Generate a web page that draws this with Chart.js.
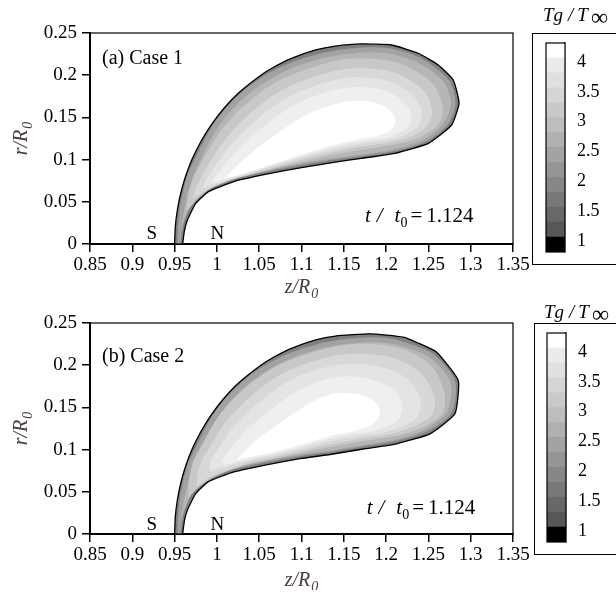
<!DOCTYPE html>
<html>
<head>
<meta charset="utf-8">
<script src="https://cdn.jsdelivr.net/npm/chart.js@4.4.1/dist/chart.umd.min.js"></script>
<style>
  html, body { margin: 0; padding: 0; background: #fff; }
  body { position: relative; width: 616px; height: 596px; overflow: hidden; }
  .panel { position: absolute; left: 0; width: 616px; height: 300px; }
  .plot { position: absolute; left: 0; top: 0; width: 532px; height: 300px; }
  .bar { position: absolute; top: 0; width: 84px; height: 300px; }
  .box { position: absolute; top: 33px; height: 230px; width: 120px; border: 1px solid #000; }
</style>
</head>
<body>
<div class="panel" style="top:0px">
  <div class="box" style="left:532px"></div>
  <div class="plot"><canvas id="plotA"></canvas></div>
  <div class="bar" style="left:532px"><canvas id="barA"></canvas></div>
</div>
<div class="panel" style="top:290px">
  <div class="box" style="left:534px"></div>
  <div class="plot"><canvas id="plotB"></canvas></div>
  <div class="bar" style="left:533px"><canvas id="barB"></canvas></div>
</div>

<script>
// ---- axes ----
const zTicks = [0.85, 0.9, 0.95, 1, 1.05, 1.1, 1.15, 1.2, 1.25, 1.3, 1.35];
const zTickLabels = ['0.85', '0.9', '0.95', '1', '1.05', '1.1', '1.15', '1.2', '1.25', '1.3', '1.35'];
const rTicks = [0, 0.05, 0.1, 0.15, 0.2, 0.25];
const rTickLabels = ['0', '0.05', '0.1', '0.15', '0.2', '0.25'];

// ---- colour bar Tg/Tinf (bands bottom -> top) ----
const barTicks = [1, 1.5, 2, 2.5, 3, 3.5, 4];
const barTickLabels = ['1', '1.5', '2', '2.5', '3', '3.5', '4'];
const bandEdges = [0.75, 1, 1.25, 1.5, 1.75, 2, 2.25, 2.5, 2.75, 3, 3.25, 3.5, 3.75, 4, 4.25];
const bandColors = ['#000000', '#575757', '#686868', '#787878', '#878787', '#959595', '#a3a3a3',
                    '#b0b0b0', '#bdbdbd', '#c9c9c9', '#d5d5d5', '#e0e0e0', '#ebebeb', '#ffffff'];

// ---- iso-temperature contours [z/R0, r/R0], outermost first ----
const contourLevels = ['edge', '2', '2.5', '3', '3.5', '3.75', '4', 'core'];
const contourFills = ['#808080', '#a2a2a2', '#b6b6b6', '#c8c8c8', '#d8d8d8', '#e4e4e4', '#efefef', '#ffffff'];

// case 1
const case1Edge = [[0.9595,0],[0.9615,0.015],[0.965,0.028],[0.975,0.048],[0.99,0.062],[1.02,0.074],[1.06,0.083],[1.1,0.0905],[1.14,0.097],[1.171,0.1015],[1.21,0.1074],[1.25,0.1193],[1.2775,0.141],[1.2862,0.1667],[1.2794,0.1943],[1.2617,0.212],[1.238,0.226],[1.2066,0.2358],[1.171,0.237],[1.14,0.2345],[1.1169,0.23],[1.0882,0.22],[1.068,0.21],[1.052,0.2],[1.0269,0.18],[1.0077,0.16],[0.9925,0.14],[0.9803,0.12],[0.9705,0.1],[0.9629,0.08],[0.9572,0.06],[0.9532,0.04],[0.9508,0.02],[0.95,0]];
const case1T2 = [[0.957,0],[0.9587,0.0154],[0.9623,0.0296],[0.9717,0.0498],[0.9871,0.0646],[1.019,0.077],[1.0598,0.0859],[1.1,0.0936],[1.1396,0.1001],[1.1715,0.1043],[1.2093,0.1102],[1.2472,0.1214],[1.2732,0.1422],[1.282,0.1665],[1.2755,0.1919],[1.259,0.2085],[1.2365,0.2222],[1.2058,0.2316],[1.1715,0.2328],[1.1301,0.2275],[1.0911,0.2162],[1.0616,0.2026],[1.0374,0.1866],[1.0178,0.1688],[1.0031,0.1523],[0.993,0.1374],[0.9836,0.1197],[0.9729,0.0983],[0.9658,0.0835],[0.9605,0.064],[0.9564,0.0432],[0.954,0.0201],[0.9534,0]];
const case1T25 = [[0.9576,0.0142],[0.9611,0.0284],[0.9706,0.0486],[0.9859,0.064],[1.0178,0.0782],[1.0592,0.0877],[1.0994,0.0954],[1.1396,0.1019],[1.1715,0.106],[1.2082,0.112],[1.2436,0.1232],[1.2672,0.1422],[1.2767,0.1665],[1.2696,0.1896],[1.2543,0.2044],[1.233,0.2168],[1.2034,0.2257],[1.1715,0.2269],[1.1313,0.2216],[1.0947,0.2109],[1.0651,0.1967],[1.0415,0.1813],[1.0226,0.1641],[1.0084,0.1481],[0.9978,0.1327],[0.9883,0.1155],[0.9788,0.0954],[0.9717,0.08],[0.9658,0.0616],[0.9617,0.0427],[0.9587,0.0261]];
const case1T3 = [[0.9635,0.0379],[0.9753,0.0515],[0.9918,0.0652],[1.0178,0.0761],[1.0332,0.0802],[1.0628,0.088],[1.0982,0.0969],[1.1337,0.105],[1.1632,0.1105],[1.2312,0.123],[1.2602,0.14],[1.2672,0.1602],[1.2548,0.1904],[1.2164,0.2136],[1.1725,0.22],[1.134,0.2155],[1.0728,0.1934],[1.0336,0.1653],[1.0058,0.1357],[0.9888,0.1092],[0.9721,0.0778],[0.9658,0.0569]];
const case1T35 = [[0.9717,0.0533],[0.9895,0.0648],[1.0155,0.0758],[1.0332,0.0813],[1.0628,0.0896],[1.0982,0.0993],[1.1337,0.1081],[1.1632,0.114],[1.2223,0.1244],[1.2483,0.1395],[1.2544,0.1572],[1.2448,0.1812],[1.2124,0.202],[1.173,0.2086],[1.1366,0.2046],[1.0812,0.1847],[1.0442,0.159],[1.016,0.1313],[0.9975,0.1063],[0.9803,0.0777],[0.9741,0.064]];
const case1T375 = [[0.9824,0.0663],[1.006,0.0735],[1.0332,0.0823],[1.0628,0.0911],[1.0982,0.1015],[1.1337,0.111],[1.1632,0.1174],[1.2135,0.1258],[1.2373,0.139],[1.2423,0.1544],[1.2353,0.1723],[1.2086,0.1911],[1.1735,0.1977],[1.139,0.1942],[1.0892,0.1767],[1.0541,0.1531],[1.0256,0.127],[1.0057,0.1034],[0.9881,0.0775]];
const case1T4 = [[0.993,0.0723],[1.0131,0.0776],[1.0332,0.0833],[1.0628,0.0924],[1.0982,0.1036],[1.1337,0.1137],[1.1632,0.1205],[1.2046,0.1272],[1.2255,0.1383],[1.2294,0.1513],[1.2253,0.163],[1.2046,0.1794],[1.1742,0.1862],[1.1417,0.1833],[1.0976,0.1679],[1.0649,0.1468],[1.0359,0.1226],[1.0144,0.1004],[0.9963,0.0772]];
const case1Core = [[1.0084,0.077],[1.0332,0.0841],[1.0628,0.0936],[1.0982,0.1054],[1.1337,0.1161],[1.1632,0.1232],[1.1928,0.1291],[1.2081,0.1374],[1.2105,0.1493],[1.1987,0.1623],[1.175,0.1694],[1.1455,0.1671],[1.11,0.1552],[1.0805,0.1374],[1.0509,0.1161],[1.0273,0.096]];

// case 2
const case2Edge = [[0.9595,0],[0.9615,0.015],[0.965,0.028],[0.9751,0.048],[0.99,0.062],[1.02,0.0735],[1.06,0.0823],[1.1,0.0895],[1.1337,0.0942],[1.173,0.1007],[1.2125,0.1069],[1.2519,0.1187],[1.2814,0.1424],[1.2853,0.1819],[1.2598,0.2154],[1.2377,0.2263],[1.2203,0.2332],[1.181,0.2372],[1.14,0.2345],[1.1169,0.23],[1.0882,0.22],[1.068,0.21],[1.052,0.2],[1.0269,0.18],[1.0077,0.16],[0.9925,0.14],[0.9803,0.12],[0.9705,0.1],[0.9629,0.08],[0.9572,0.06],[0.9532,0.04],[0.9508,0.02],[0.95,0]];
const case2T2 = [[0.957,0],[0.9587,0.0154],[0.9623,0.0296],[0.9717,0.0498],[0.9871,0.0646],[1.019,0.0764],[1.0598,0.0853],[1.1,0.0927],[1.1337,0.0972],[1.1727,0.1037],[1.2117,0.1102],[1.2495,0.122],[1.2773,0.144],[1.2814,0.1813],[1.2572,0.2121],[1.2365,0.2222],[1.2058,0.2316],[1.1715,0.2328],[1.1301,0.2275],[1.0911,0.2162],[1.0616,0.2026],[1.0374,0.1866],[1.0178,0.1688],[1.0031,0.1523],[0.993,0.1374],[0.9836,0.1197],[0.9729,0.0983],[0.9658,0.0835],[0.9605,0.064],[0.9564,0.0432],[0.954,0.0201],[0.9534,0]];
const case2T25 = [[0.9576,0.0142],[0.9611,0.0284],[0.9706,0.0486],[0.9859,0.064],[1.0178,0.0782],[1.0592,0.0871],[1.0994,0.0942],[1.1337,0.0989],[1.1727,0.1054],[1.2105,0.112],[1.2448,0.1232],[1.272,0.1451],[1.2761,0.1801],[1.2531,0.2079],[1.233,0.218],[1.2034,0.2257],[1.1715,0.2269],[1.1313,0.2216],[1.0947,0.2109],[1.0651,0.1967],[1.0415,0.1813],[1.0226,0.1641],[1.0084,0.1481],[0.9978,0.1327],[0.9883,0.1155],[0.9788,0.0954],[0.9717,0.08],[0.9658,0.0616],[0.9617,0.0427],[0.9587,0.0261]];
const case2T3 = [[0.9658,0.0427],[0.9777,0.0545],[0.9942,0.0663],[1.0178,0.0764],[1.0391,0.0829],[1.0628,0.0881],[1.0982,0.0956],[1.1337,0.103],[1.1632,0.1084],[1.2259,0.1199],[1.265,0.1404],[1.2693,0.1659],[1.2524,0.2006],[1.217,0.22],[1.1747,0.2254],[1.1326,0.2208],[1.0702,0.1989],[1.0294,0.1694],[1.0013,0.1385],[0.986,0.1122],[0.9717,0.0854],[0.967,0.064]];
const case2T35 = [[0.9753,0.0569],[0.9978,0.0705],[1.0214,0.0788],[1.0391,0.085],[1.0628,0.09],[1.0982,0.0981],[1.1337,0.1063],[1.1632,0.1118],[1.2129,0.1205],[1.2525,0.1389],[1.2573,0.1622],[1.241,0.1908],[1.2116,0.2075],[1.1743,0.2136],[1.1351,0.2105],[1.08,0.1917],[1.0409,0.1642],[1.0118,0.1348],[0.9961,0.1107],[0.9814,0.0858],[0.9777,0.0735]];
const case2T375 = [[0.9918,0.0746],[1.0178,0.0818],[1.0391,0.0871],[1.0628,0.0921],[1.0982,0.1006],[1.1337,0.1095],[1.1632,0.1153],[1.1999,0.1211],[1.2351,0.1367],[1.2408,0.1571],[1.229,0.1804],[1.2059,0.1942],[1.1739,0.2013],[1.1377,0.1996],[1.0905,0.1841],[1.0532,0.1588],[1.023,0.1308],[1.0069,0.1091],[0.9917,0.0863]];
const case2T4 = [[1.0084,0.0818],[1.0391,0.0891],[1.0628,0.094],[1.0982,0.103],[1.1337,0.1128],[1.1632,0.1188],[1.1843,0.1218],[1.2129,0.134],[1.2195,0.1506],[1.2133,0.1669],[1.1986,0.177],[1.1734,0.1852],[1.141,0.1857],[1.104,0.1742],[1.069,0.1515],[1.0377,0.1258],[1.0208,0.107],[1.0051,0.0868]];
const case2Core = [[1.0226,0.0877],[1.0391,0.0912],[1.0628,0.096],[1.0982,0.1054],[1.1337,0.1161],[1.1652,0.1226],[1.1849,0.1306],[1.1928,0.1424],[1.1889,0.1543],[1.1727,0.1641],[1.1455,0.1671],[1.1219,0.1611],[1.0899,0.1422],[1.0568,0.1191],[1.0391,0.1043]];

const serif = '"Liberation Serif", "Times New Roman", serif';
const font = (size, style) => `${style || 'normal'} ${size}px ${serif}`;
const titleColor = '#4b3b47';

// draws a run of text pieces (for subscripts / italics)
function drawRuns(ctx, runs, x, y, align, angle) {
  ctx.save();
  ctx.translate(x, y);
  if (angle) ctx.rotate(angle);
  const widths = runs.map(r => { ctx.font = r.font; return ctx.measureText(r.text).width; });
  const total = runs.reduce((s, r, i) => s + (r.gap || 0) + widths[i], 0);
  let cx = align === 'center' ? -total / 2 : (align === 'right' ? -total : 0);
  ctx.textBaseline = 'alphabetic';
  ctx.textAlign = 'left';
  runs.forEach((r, i) => {
    cx += r.gap || 0;
    ctx.font = r.font;
    ctx.fillStyle = r.color || '#000';
    ctx.fillText(r.text, cx, r.dy || 0);
    cx += widths[i];
  });
  ctx.restore();
}

// frame + text notes
const notesPlugin = {
  id: 'notes',
  afterDraw(chart, args, opts) {
    const { ctx, chartArea: a, scales } = chart;
    if (opts.frame) {
      ctx.save();
      ctx.strokeStyle = '#000';
      ctx.lineWidth = opts.frame;
      ctx.strokeRect(a.left, a.top, a.right - a.left, a.bottom - a.top);
      ctx.restore();
    }
    (opts.items || []).forEach(it => {
      let x = it.x, y = it.y, angle = 0;
      if (it.at === 'data') {
        x = scales.x.getPixelForValue(it.x);
        y = scales.y.getPixelForValue(it.y);
      } else if (it.at === 'xtitle') {
        x = (a.left + a.right) / 2;
        y = a.bottom + it.dy;
      } else if (it.at === 'ytitle') {
        y = (a.top + a.bottom) / 2;
        angle = -Math.PI / 2;
      }
      drawRuns(ctx, it.runs, x, y, it.align || 'left', angle);
    });
  }
};

function contourDatasets(rings) {
  return rings.map((pts, i) => ({
    label: contourLevels[i],
    data: pts.map(p => ({ x: p[0], y: p[1] })),
    showLine: true,
    fill: 'shape',
    backgroundColor: contourFills[i],
    borderColor: i === 0 ? '#000' : 'rgba(0,0,0,0)',
    borderWidth: i === 0 ? 1.3 : 0,
    pointRadius: 0,
    tension: i === 0 ? 0.15 : 0.3,
    order: rings.length - i
  }));
}

function makePlot(id, rings, caseText, labelR, timeZ, timeR, snR, titleDy) {
  const tickFont = { family: serif, size: 19 };
  return new Chart(document.getElementById(id), {
    type: 'scatter',
    data: { datasets: contourDatasets(rings) },
    options: {
      responsive: true,
      maintainAspectRatio: false,
      animation: false,
      events: [],
      layout: { padding: { top: 33, right: 19, left: 0, bottom: 0 } },
      plugins: {
        legend: { display: false },
        tooltip: { enabled: false },
        filler: { drawTime: 'beforeDatasetsDraw' },
        notes: {
          frame: 1.2,
          items: [
            { at: 'data', x: 0.8642, y: labelR, runs: [{ text: caseText, font: font(20) }] },
            { at: 'data', x: 0.9229, y: snR, align: 'center', runs: [{ text: 'S', font: font(19) }] },
            { at: 'data', x: 1.0005, y: snR, align: 'center', runs: [{ text: 'N', font: font(19) }] },
            { at: 'data', x: timeZ, y: timeR, runs: [
              { text: 't', font: font(21, 'italic') },
              { text: '/', gap: 6, font: font(21, 'italic') },
              { text: 't', gap: 12, font: font(21, 'italic') },
              { text: '0', gap: 0, font: font(14), dy: 5 },
              { text: '=', gap: 3, font: font(21) },
              { text: '1.124', gap: 4, font: font(21) }
            ] },
            { at: 'xtitle', dy: titleDy, align: 'center', runs: [
              { text: 'z/R', font: font(20, 'italic'), color: titleColor },
              { text: '0', gap: 1, font: font(14, 'italic'), dy: 5, color: titleColor }
            ] },
            { at: 'ytitle', x: 27, align: 'center', runs: [
              { text: 'r/R', font: font(20, 'italic'), color: titleColor },
              { text: '0', gap: 1, font: font(14, 'italic'), dy: 5, color: titleColor }
            ] }
          ]
        }
      },
      scales: {
        x: {
          type: 'linear', min: 0.85, max: 1.35,
          afterBuildTicks: s => { s.ticks = zTicks.map(v => ({ value: v })); },
          afterFit: s => { s.height = 56; },
          ticks: { callback: (v, i) => zTickLabels[i], font: tickFont, color: '#000', padding: 2, maxRotation: 0, autoSkip: false },
          grid: { drawOnChartArea: false, drawTicks: true, tickLength: 8, color: '#000', lineWidth: 1.5 },
          border: { display: true, color: '#000', width: 2 }
        },
        y: {
          type: 'linear', min: 0, max: 0.25,
          afterBuildTicks: s => { s.ticks = rTicks.map(v => ({ value: v })); },
          afterFit: s => { s.width = 90; },
          ticks: { callback: (v, i) => rTickLabels[i], font: tickFont, color: '#000', padding: 5, autoSkip: false },
          grid: { drawOnChartArea: false, drawTicks: true, tickLength: 8, color: '#000', lineWidth: 1.5 },
          border: { display: true, color: '#000', width: 2 }
        }
      }
    },
    plugins: [notesPlugin]
  });
}

function makeBar(id, titleY) {
  return new Chart(document.getElementById(id), {
    type: 'bar',
    data: {
      labels: [''],
      datasets: bandColors.map((c, i) => ({
        data: [[bandEdges[i], bandEdges[i + 1]]],
        backgroundColor: c,
        borderWidth: 0,
        barPercentage: 1,
        categoryPercentage: 1,
        grouped: false
      }))
    },
    options: {
      responsive: true,
      maintainAspectRatio: false,
      animation: false,
      events: [],
      layout: { padding: { left: 14, top: 43, bottom: 48, right: 0 } },
      plugins: {
        legend: { display: false },
        tooltip: { enabled: false },
        notes: {
          frame: 1.2,
          items: [
            { at: 'px', x: 11, y: titleY, runs: [
              { text: 'Tg', font: font(19, 'italic') },
              { text: '/', gap: 5, font: font(19, 'italic') },
              { text: 'T', gap: 4, font: font(19, 'italic') },
              { text: '\u221E', gap: 3, font: font(24), dy: 4 }
            ] }
          ]
        }
      },
      scales: {
        x: { display: false },
        y: {
          position: 'right', min: 0.75, max: 4.25, z: 1,
          afterBuildTicks: s => { s.ticks = barTicks.map(v => ({ value: v })); },
          afterFit: s => { s.width = 51; },
          ticks: { callback: (v, i) => barTickLabels[i], font: { family: serif, size: 18 }, color: '#000', padding: 12, labelOffset: 4 },
          grid: { color: '#000', lineWidth: 1.2, drawTicks: false },
          border: { display: true, color: '#000', width: 1.2 }
        }
      }
    },
    plugins: [notesPlugin]
  });
}

makePlot('plotA', [case1Edge, case1T2, case1T25, case1T3, case1T35, case1T375, case1T4, case1Core],
  '(a) Case 1', 0.2133, 1.175, 0.0257, 0.0065, 49);
makePlot('plotB', [case2Edge, case2T2, case2T25, case2T3, case2T35, case2T375, case2T4, case2Core],
  '(b) Case 2', 0.2037, 1.177, 0.0237, 0.005, 52);
makeBar('barA', 21);
makeBar('barB', 28);
</script>
</body>
</html>
